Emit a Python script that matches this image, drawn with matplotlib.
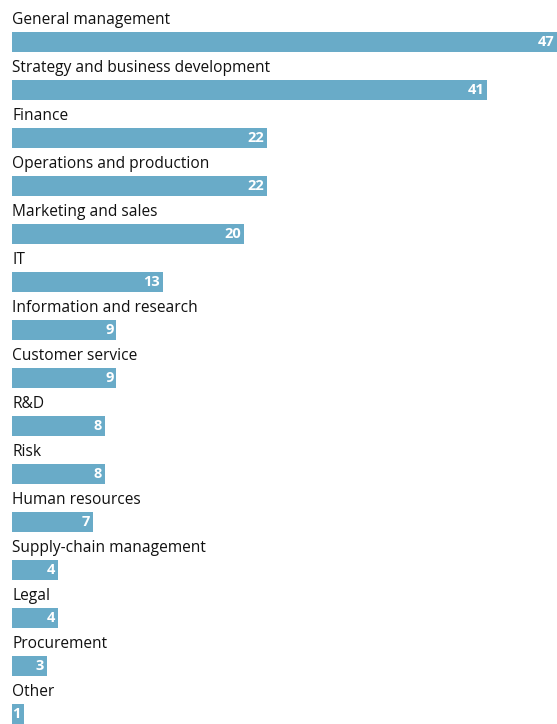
import matplotlib
matplotlib.use("Agg")
import matplotlib.pyplot as plt

categories = ["General management", "Strategy and business development", "Finance",
              "Operations and production", "Marketing and sales", "IT",
              "Information and research", "Customer service", "R&D", "Risk",
              "Human resources", "Supply-chain management", "Legal", "Procurement", "Other"]
values = [47, 41, 22, 22, 20, 13, 9, 9, 8, 8, 7, 4, 4, 3, 1]

plt.rcParams['font.family'] = ['Open Sans', 'DejaVu Sans']

fig = plt.figure(figsize=(5.57, 7.24), dpi=100)
ax = fig.add_axes([12 / 557, 0, 1 - 12 / 557, 1])

pos = list(range(len(categories)))
bars = ax.barh(pos, values, height=0.42, color='#69abc8')

for i, (cat, v) in enumerate(zip(categories, values)):
    ax.text(0, i - 0.46, cat, ha='left', va='center', fontsize=11.2, color='#111111')
    ax.text(v - 0.25, i, str(v), ha='right', va='center', fontsize=10.5,
            fontweight='bold', color='white')

ax.set_xlim(0, 47)
ax.set_ylim(-0.875 + 724 / 48, -0.875)
ax.axis('off')

fig.savefig("out.png", dpi=100)
